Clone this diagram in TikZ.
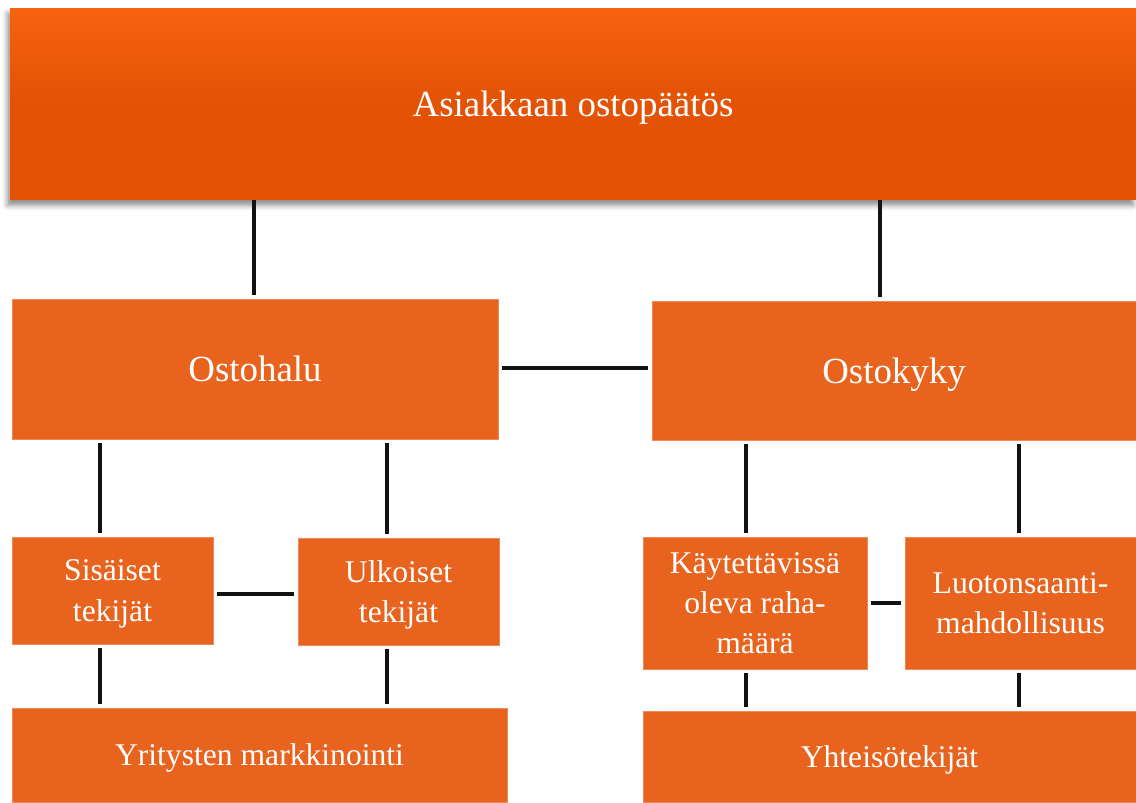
\documentclass[tikz,border=0pt]{standalone}
\usepackage{fontspec}
\setmainfont{Liberation Serif}
\usetikzlibrary{shadows.blur}
\definecolor{boxfill}{HTML}{E8641E}
\definecolor{boxedge}{HTML}{EE8A55}
\definecolor{headtop}{HTML}{F56210}
\definecolor{headbot}{HTML}{E35205}
\begin{document}
\begin{tikzpicture}[x=0.02cm,y=-0.02cm,
  box/.style={fill=boxfill, draw=boxedge, line width=0.3pt, inner sep=0pt,
    text=white, align=center, text depth=0pt, font=\fontsize{18}{22.8}\selectfont},
  big/.style={font=\fontsize{21}{25}\selectfont},
  link/.style={line width=0.08cm, draw=black!93,
    shorten <=0.08cm, shorten >=0.08cm},
]
\useasboundingbox (0,0) rectangle (1136,802);

% head box with gradient and soft shadow
\node[inner sep=0pt, text=white, big, text depth=0pt,
  minimum width=22.52cm, minimum height=3.84cm,
  top color=headtop, bottom color=headbot, middle color=headbot,
  blur shadow={shadow xshift=-1.5pt, shadow yshift=-3pt,
    shadow blur radius=3pt, shadow opacity=45}] (head) at (573,104) {Asiakkaan ostopäätös};

% second level
\node[box, big, minimum width=9.72cm, minimum height=2.8cm] (halu) at (255,369) {Ostohalu};
\node[box, big, minimum width=9.68cm, minimum height=2.78cm] (kyky) at (894,370.5) {Ostokyky};

% third level
\node[box, minimum width=4.02cm, minimum height=2.14cm] (sis) at (112.5,590.5) {Sisäiset\\tekijät};
\node[box, minimum width=4.02cm, minimum height=2.14cm] (ulk) at (398.5,591.5) {Ulkoiset\\tekijät};
\node[box, minimum width=4.48cm, minimum height=2.64cm] (raha) at (755,603) {Käytettävissä\\oleva raha-\\määrä};
\node[box, minimum width=4.62cm, minimum height=2.64cm] (luot) at (1020.5,603) {Luotonsaanti-\\mahdollisuus};

% bottom level
\node[box, minimum width=9.9cm, minimum height=1.88cm] (mark) at (259.5,755) {Yritysten markkinointi};
\node[box, minimum width=9.86cm, minimum height=1.82cm] (yht) at (889.5,756.5) {Yhteisötekijät};

% connector columns and rows
\coordinate (c1) at (254,0);
\coordinate (c2) at (880,0);
\coordinate (c3) at (100,0);
\coordinate (c4) at (387,0);
\coordinate (c5) at (746,0);
\coordinate (c6) at (1019,0);
\coordinate (r1) at (0,368);
\coordinate (r2) at (0,594);
\coordinate (r3) at (0,603);

% connectors
\draw[link, shorten <=0pt] (head.south -| c1) -- (halu.north -| c1);
\draw[link, shorten <=0pt] (head.south -| c2) -- (kyky.north -| c2);
\draw[link] (halu.east |- r1) -- (kyky.west |- r1);
\draw[link] (halu.south -| c3) -- (sis.north -| c3);
\draw[link] (halu.south -| c4) -- (ulk.north -| c4);
\draw[link] (sis.east |- r2) -- (ulk.west |- r2);
\draw[link] (sis.south -| c3) -- (mark.north -| c3);
\draw[link] (ulk.south -| c4) -- (mark.north -| c4);
\draw[link] (kyky.south -| c5) -- (raha.north -| c5);
\draw[link] (kyky.south -| c6) -- (luot.north -| c6);
\draw[link] (raha.east |- r3) -- (luot.west |- r3);
\draw[link] (raha.south -| c5) -- (yht.north -| c5);
\draw[link] (luot.south -| c6) -- (yht.north -| c6);
\end{tikzpicture}
\end{document}
